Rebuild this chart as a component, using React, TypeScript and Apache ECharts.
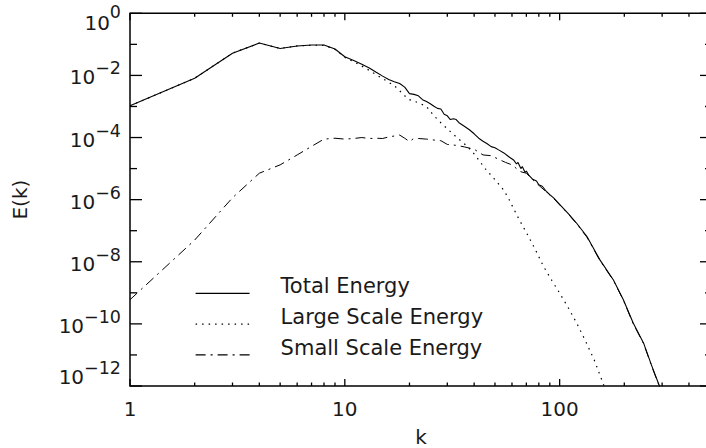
import React, { useEffect, useRef } from "react";
import * as echarts from "echarts";

// Energy spectra E(k) of the total, large-scale and small-scale fields.
const kTotal = [
  1, 2, 3, 4, 5, 6, 7, 8, 9, 10, 11, 12, 13, 14, 15, 16, 17, 18, 19, 20, 21, 22,
  23, 24, 25, 26, 27, 28, 29, 30, 31, 32, 33, 34, 36, 38, 40, 42, 44, 46, 48, 50,
  52, 55, 58, 61, 63, 64, 66, 67, 69, 70, 72, 75, 78, 80, 83, 87, 90, 94, 100,
  110, 120, 134, 154, 178, 198, 220, 246, 269, 290, 300,
];
const eTotal = [
  1.05e-3, 8.1e-3, 5.2e-2, 1.1e-1, 7.4e-2, 8.9e-2, 9.5e-2, 9.5e-2, 7.1e-2, 4.0e-2,
  3.0e-2, 2.3e-2, 1.74e-2, 1.26e-2, 9.5e-3, 7.4e-3, 6.3e-3, 5.5e-3, 4.2e-3, 2.6e-3,
  2.45e-3, 2.2e-3, 1.66e-3, 1.45e-3, 1.23e-3, 1.02e-3, 8.7e-4, 8.3e-4, 5.6e-4,
  5.0e-4, 3.8e-4, 4.0e-4, 3.8e-4, 3.0e-4, 2.3e-4, 1.78e-4, 1.32e-4, 9.5e-5, 7.6e-5,
  6.3e-5, 5.1e-5, 4.7e-5, 4.0e-5, 3.2e-5, 2.4e-5, 1.9e-5, 1.41e-5, 1.58e-5, 1.0e-5,
  1.17e-5, 7.6e-6, 8.3e-6, 6.0e-6, 4.5e-6, 4.0e-6, 3.0e-6, 2.7e-6, 1.8e-6, 1.45e-6,
  1.12e-6, 7.1e-7, 3.5e-7, 1.74e-7, 6.5e-8, 1.15e-8, 2.6e-9, 6.0e-10, 1.07e-10,
  2.4e-11, 4.3e-12, 1.1e-12, 5.0e-13,
];

const kLarge = [
  1, 2, 3, 4, 5, 6, 7, 8, 9, 10, 11, 12, 13, 14, 15, 16, 17, 18, 19, 20, 22, 24,
  26, 28, 30, 33, 36, 39, 42, 45, 50, 55, 58, 61, 65, 70, 77, 84, 92, 100, 110,
  120, 132, 145, 159, 165,
];
const eLarge = [
  1.05e-3, 8.1e-3, 5.2e-2, 1.1e-1, 7.4e-2, 8.9e-2, 9.4e-2, 9.3e-2, 6.9e-2, 3.8e-2,
  2.75e-2, 2.0e-2, 1.45e-2, 1.05e-2, 7.9e-3, 6.0e-3, 4.7e-3, 3.2e-3, 2.2e-3, 1.66e-3,
  1.32e-3, 1.0e-3, 5.0e-4, 3.0e-4, 1.9e-4, 1.05e-4, 6.3e-5, 3.7e-5, 1.9e-5, 1.0e-5,
  4.4e-6, 2.0e-6, 1.05e-6, 5.2e-7, 2.2e-7, 8.7e-8, 2.5e-8, 7.2e-9, 2.5e-9, 9.8e-10,
  3.2e-10, 1.07e-10, 2.8e-11, 6.8e-12, 1.26e-12, 6.3e-13,
];

const kSmall = [
  1, 2, 3, 4, 5, 6, 7, 8, 9, 10, 11, 12, 13, 14, 15, 16, 17, 18, 19, 20, 21, 22,
  24, 26, 28, 30, 33, 36, 40, 44, 48, 52, 56, 60, 63, 66, 70, 75, 80, 87, 94, 100,
  110, 120, 134, 154, 178, 198, 220, 246, 269, 290, 300,
];
const eSmall = [
  6.0e-10, 5.0e-8, 1.15e-6, 7.1e-6, 1.32e-5, 2.75e-5, 5.2e-5, 8.9e-5, 9.5e-5, 8.9e-5,
  9.3e-5, 1.0e-4, 9.3e-5, 9.5e-5, 9.3e-5, 1.05e-4, 1.12e-4, 1.2e-4, 9.5e-5, 7.4e-5,
  9.5e-5, 9.3e-5, 8.9e-5, 8.3e-5, 7.9e-5, 6.0e-5, 5.6e-5, 5.0e-5, 4.2e-5, 2.75e-5,
  2.6e-5, 2.0e-5, 1.58e-5, 1.32e-5, 1.0e-5, 7.9e-6, 7.1e-6, 4.3e-6, 2.9e-6, 1.74e-6,
  1.07e-6, 6.8e-7, 3.4e-7, 1.66e-7, 6.2e-8, 1.1e-8, 2.5e-9, 5.8e-10, 1.02e-10,
  2.3e-11, 4.1e-12, 1.05e-12, 5.0e-13,
];

// Axis ranges and tick positions
const K_MIN = 1;
const K_MAX = 512;
const E_MIN = 1e-12;
const E_MAX = 1;
const kMajor = [1, 10, 100];
const kMinor = [2, 3, 4, 5, 6, 7, 8, 9, 20, 30, 40, 50, 60, 70, 80, 90, 200, 300, 400, 500];
const eMajor = [1, 1e-2, 1e-4, 1e-6, 1e-8, 1e-10, 1e-12];
const eMinor = [1e-1, 1e-3, 1e-5, 1e-7, 1e-9, 1e-11];

const NAME_TOTAL = "Total Energy";
const NAME_LARGE = "Large Scale Energy";
const NAME_SMALL = "Small Scale Energy";

const FONT = "DejaVu Sans";
const INK = "#1a1a1a";

const pairs = (ks: number[], es: number[]) => ks.map((k, i) => [k, es[i]]);

function powerLabel(v: number): string {
  const n = Math.round(Math.log10(v));
  const exp = (n < 0 ? "\u2212" : "") + Math.abs(n);
  if (n === 0) return `{bHi|10}{sHi|${exp}}`;
  if (n === -12) return `{bLo|10}{sLo|${exp}}`;
  return `{b|10}{s|${exp}}`;
}

const baseTxt = { fontSize: 20, lineHeight: 20, fontFamily: FONT, color: INK };
const supTxt = { fontSize: 17.5, lineHeight: 18, fontFamily: FONT, color: INK };

// Inward tick marks on the plot frame, drawn as thin rectangles anchored on the frame
function tickMarks(points: number[][], size: number[], offset: number[]) {
  return {
    type: "scatter",
    silent: true,
    clip: false,
    z: 6,
    xAxisIndex: 0,
    yAxisIndex: 0,
    symbol: "rect",
    symbolSize: size,
    symbolOffset: offset,
    itemStyle: { color: "#000", opacity: 1 },
    emphasis: { disabled: true },
    data: points,
  };
}

const TW = 1.3; // tick thickness
const kTicks = (ks: number[], len: number) => [
  tickMarks(ks.map((k) => [k, E_MIN]), [TW, len], [0, -len / 2]),
  tickMarks(ks.map((k) => [k, E_MAX]), [TW, len], [0, len / 2]),
];
const eTicks = (es: number[], len: number) => [
  tickMarks(es.map((e) => [K_MIN, e]), [len, TW], [len / 2, 0]),
  tickMarks(es.map((e) => [K_MAX, e]), [len, TW], [-len / 2, 0]),
];

export default function App() {
  const ref = useRef<HTMLDivElement>(null);

  useEffect(() => {
    if (!ref.current) return;
    const chart = echarts.init(ref.current, null, { renderer: "svg" });
    const lineBase = { type: "line", symbol: "none", showSymbol: false, xAxisIndex: 0, yAxisIndex: 0, clip: true };
    chart.setOption({
      animation: false,
      backgroundColor: "#fff",
      textStyle: { fontFamily: FONT },
      grid: {
        left: 130,
        top: 13.3,
        right: 8,
        bottom: 62,
        containLabel: false,
        outerBoundsMode: "none",
        show: true,
        borderColor: "#000",
        borderWidth: 1.5,
        backgroundColor: "transparent",
      },
      xAxis: {
        type: "log",
        logBase: 10,
        min: K_MIN,
        max: K_MAX,
        position: "bottom",
        name: "k",
        nameLocation: "middle",
        nameGap: 44,
        nameTextStyle: { fontSize: 20, lineHeight: 14, fontFamily: FONT, color: INK },
        axisLine: { show: false },
        axisTick: { show: false },
        axisLabel: {
          show: true,
          customValues: kMajor,
          margin: 13,
          fontSize: 20,
          fontFamily: FONT,
          color: INK,
          formatter: (v: number) => String(Math.round(v)),
        },
        splitLine: { show: false },
        minorTick: { show: false },
      },
      yAxis: {
        type: "log",
        logBase: 10,
        min: E_MIN,
        max: E_MAX,
        position: "left",
        name: "E(k)",
        nameLocation: "middle",
        nameGap: 100,
        nameTextStyle: { fontSize: 20, fontFamily: FONT, color: INK },
        axisLine: { show: false },
        axisTick: { show: false },
        axisLabel: {
          show: true,
          customValues: eMajor,
          margin: 9,
          formatter: powerLabel,
          rich: {
            b: { ...baseTxt, padding: [8, 0, 4, 0] },
            s: { ...supTxt, padding: [0, 0, 14, 0] },
            bLo: { ...baseTxt, padding: [8, 0, 27, 0] },
            sLo: { ...supTxt, padding: [0, 0, 37, 0] },
            bHi: { ...baseTxt, padding: [24, 0, 4, 0] },
            sHi: { ...supTxt, padding: [14, 0, 16, 0] },
          },
        },
        splitLine: { show: false },
        minorTick: { show: false },
      },
      legend: {
        data: [NAME_TOTAL, NAME_LARGE, NAME_SMALL],
        orient: "vertical",
        left: 195,
        top: 275.8,
        padding: 0,
        itemWidth: 54,
        itemHeight: 14,
        itemGap: -4.2,
        selectedMode: false,
        itemStyle: { opacity: 0 },
        lineStyle: { width: 1.2 },
        formatter: "{t|{name}}",
        textStyle: {
          fontSize: 21,
          fontFamily: FONT,
          color: INK,
          rich: {
            t: { fontSize: 21, lineHeight: 21, fontFamily: FONT, color: INK, padding: [0, 0, 14, 26] },
          },
        },
      },
      series: [
        {
          ...lineBase,
          name: NAME_SMALL,
          data: pairs(kSmall, eSmall),
          lineStyle: { color: "#000", width: 1, type: [10, 5, 2, 5] },
          itemStyle: { color: "#000" },
          z: 2,
        },
        {
          ...lineBase,
          name: NAME_LARGE,
          data: pairs(kLarge, eLarge),
          lineStyle: { color: "#000", width: 1.2, type: [1.5, 5] },
          itemStyle: { color: "#000" },
          z: 3,
        },
        {
          ...lineBase,
          name: NAME_TOTAL,
          data: pairs(kTotal, eTotal),
          lineStyle: { color: "#000", width: 1.1, type: "solid" },
          itemStyle: { color: "#000" },
          z: 4,
        },
        ...kTicks(kMajor, 7),
        ...kTicks(kMinor, 3.5),
        ...eTicks(eMajor, 12),
        ...eTicks(eMinor, 7),
      ],
    });
    return () => chart.dispose();
  }, []);

  return (
    <div style={{ position: "fixed", left: 0, top: 0, width: 706, height: 448, overflow: "hidden", background: "#fff" }}>
      <div ref={ref} style={{ width: 720, height: 448 }} />
    </div>
  );
}
